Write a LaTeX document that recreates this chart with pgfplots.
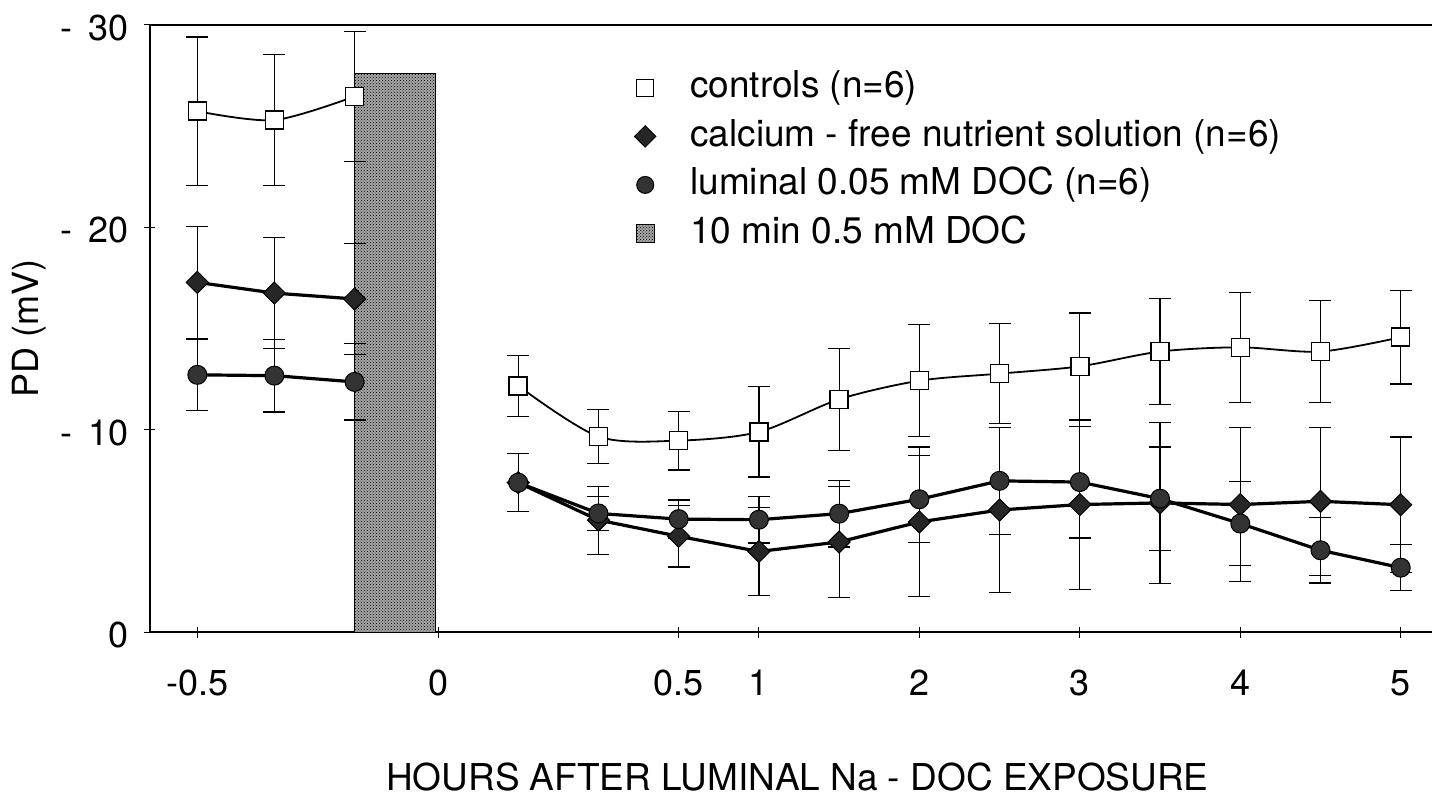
\documentclass[border=0pt]{standalone}
\usepackage{fontspec}
\setmainfont{TeX Gyre Heros}
\usepackage{pgfplots}
\pgfplotsset{compat=1.18}
\usepackage{pgfplotstable}
\usetikzlibrary{patterns}

\pgfplotsset{
    markleg/.style={legend image code/.code={\draw[##1] plot coordinates {(0pt,0pt)}; \path[draw=none, fill=none] (-10pt,0pt) -- (45pt,0pt);}},
    boxleg/.style={legend image code/.code={\draw[black, line width=1pt, fill=black!35,
        postaction={pattern=crosshatch dots, pattern color=black}] (-9pt,-9pt) rectangle (9pt,9pt);
        \path[draw=none, fill=none] (-10pt,0pt) -- (45pt,0pt);}},
}

% x: -3,-2,-1 = 30,20,10 min before; 1..3 = 10,20,30 min after; 4..12 = 1 h .. 5 h
\pgfplotstableread{
x     y      e
-3    25.74  3.67
-2.04 25.30  3.24
-1.04 26.47  3.20
nan   nan    nan
1     12.17  1.50
2     9.66   1.32
3     9.46   1.45
4     9.89   2.23
5     11.50  2.52
6     12.42  2.77
7     12.77  2.48
8     13.13  2.64
9     13.86  2.61
10    14.07  2.71
11    13.86  2.53
12    14.57  2.31
}\ctrldata

\pgfplotstableread{
x     y      e
-3    17.28  2.78
-2.04 16.75  2.75
-1.04 16.46  2.73
nan   nan    nan
1     7.38   1.44
2     5.53   1.68
3     4.73   1.52
4     3.98   2.17
5     4.45   2.76
6     5.44   3.70
7     6.03   4.08
8     6.30   4.18
9     6.38   3.99
10    6.30   3.80
11    6.46   3.65
12    6.29   3.35
}\cafree

\pgfplotstableread{
x     y      e
-3    12.71  1.77
-2.04 12.67  1.80
-1.04 12.36  1.88
nan   nan    nan
1     7.38   1.44
2     5.86   0.83
3     5.58   0.94
4     5.55   1.15
5     5.85   1.65
6     6.56   2.15
7     7.47   2.65
8     7.41   2.76
9     6.59   2.55
10    5.36   2.06
11    4.04   1.62
12    3.18   1.14
}\lumdoc

\begin{document}
\begin{tikzpicture}
\begin{axis}[
    scale only axis,
    width=1282pt, height=607pt,
    xmin=-3.59, xmax=12.39,
    ymin=0, ymax=30,
    axis x line*=box, axis y line*=left,
    xtick pos=bottom,
    axis line style={line width=1.5pt, black},
    tick align=center,
    major tick length=11pt,
    tick style={line width=1pt, black},
    xtick={-3,0,3,4,6,8,10,12},
    xticklabels={-0.5,0,0.5,1,2,3,4,5},
    ytick={0,10,20,30},
    yticklabels={0,{-\hspace{0.45em}10},{-\hspace{0.45em}20},{-\hspace{0.45em}30}},
    tick label style={font=\fontsize{36}{40}\selectfont},
    xticklabel style={anchor=base, inner sep=0pt, yshift=-58pt},
    yticklabel style={anchor=east, inner sep=0pt, xshift=-16pt, yshift=-3pt},
    xlabel={HOURS AFTER LUMINAL Na - DOC EXPOSURE},
    xlabel style={font=\fontsize{37}{40}\selectfont, at={(axis description cs:0.505,0)}, anchor=base, inner sep=0pt, yshift=-158pt},
    ylabel={PD (mV)},
    ylabel style={font=\fontsize{36}{40}\selectfont, at={(axis description cs:-0.094,0.5)}, anchor=center, inner sep=0pt},
    unbounded coords=jump,
    error bars/y dir=both,
    error bars/y explicit,
    error bars/error mark options={rotate=90, mark size=11pt, line width=1.2pt, black},
    error bars/error bar style={line width=1.2pt, black},
    legend cell align=left,
    legend style={draw=none, fill=none, inner sep=0pt, outer sep=0pt,
        at={(axis description cs:0.378,0.926)}, anchor=north west,
        row sep=12.5pt, font=\fontsize{37}{40}\selectfont,
        nodes={inner sep=0pt, text height=28pt, text depth=8pt}},
]
% 10 min exposure to 0.5 mM DOC
\addplot[forget plot, draw=black, line width=1pt, fill=black!35,
    postaction={pattern=crosshatch dots, pattern color=black}]
    coordinates {(-1.04,0) (-1.04,27.6) (-0.03,27.6) (-0.03,0)} \closedcycle;

\addplot[forget plot, black, smooth, line width=1.8pt, mark=square*, mark size=9pt,
    mark options={fill=white, line width=1.5pt, rounded corners=2pt}]
    table[x=x, y=y, y error=e] {\ctrldata};
\addplot[forget plot, black, line width=3.2pt, mark=square*, mark size=7.8pt,
    mark options={rotate=45, fill=black!85, line width=1pt}]
    table[x=x, y=y, y error=e] {\cafree};
\addplot[forget plot, black, line width=3.2pt, mark=*, mark size=9.5pt,
    mark options={fill=black!80, line width=1pt}]
    table[x=x, y=y, y error=e] {\lumdoc};

\addlegendimage{markleg, only marks, mark=square*, mark size=8.5pt,
    mark options={fill=white, line width=1.5pt, rounded corners=2pt}}
\addlegendentry{controls (n=6)}
\addlegendimage{markleg, only marks, mark=square*, mark size=7.5pt,
    mark options={rotate=45, fill=black!85, line width=1pt}}
\addlegendentry{calcium - free nutrient solution (n=6)}
\addlegendimage{markleg, only marks, mark=*, mark size=8.5pt,
    mark options={fill=black!80, line width=1pt}}
\addlegendentry{luminal 0.05 mM DOC (n=6)}
\addlegendimage{boxleg}
\addlegendentry{10 min 0.5 mM DOC}
\end{axis}
\pgfresetboundingbox
\path[use as bounding box] ([xshift=-150pt, yshift=-164pt]current axis.south west)
    rectangle ([yshift=25pt]current axis.north east);
\end{tikzpicture}
\end{document}
